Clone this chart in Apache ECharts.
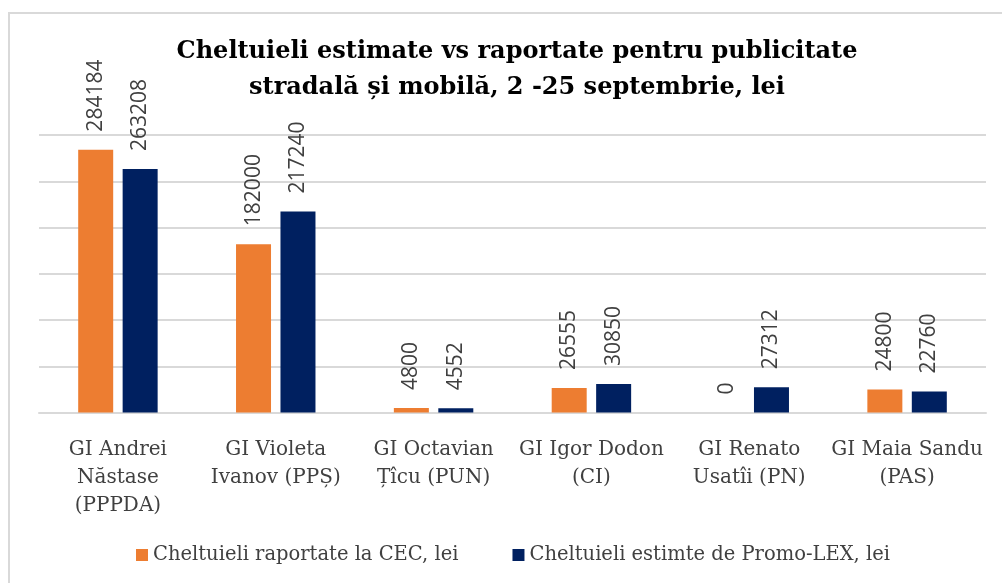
<!DOCTYPE html>
<html>
<head>
<meta charset="utf-8">
<script src="https://cdn.jsdelivr.net/npm/echarts@6/dist/echarts.min.js"></script>
<style>html,body{margin:0;padding:0;background:#fff}#c{width:1002px;height:583px}</style>
</head>
<body>
<div id="c"></div>
<script>
const categories = [
  "GI Andrei\nNăstase\n(PPPDA)",
  "GI Violeta\nIvanov (PPȘ)",
  "GI Octavian\nȚîcu (PUN)",
  "GI Igor Dodon\n(CI)",
  "GI Renato\nUsatîi (PN)",
  "GI Maia Sandu\n(PAS)"
];
const seriesNames = ["Cheltuieli raportate la CEC, lei", "Cheltuieli estimte de Promo-LEX, lei"];
const reportedCEC = [284184, 182000, 4800, 26555, 0, 24800];
const estimatedPromoLex = [263208, 217240, 4552, 30850, 27312, 22760];

const chart = echarts.init(document.getElementById('c'), null, {renderer: 'canvas'});
const serif = '"DejaVu Serif", serif';
const sans = '"Open Sans", sans-serif';
const labelCfg = {
  show: true,
  position: 'top',
  rotate: 90,
  align: 'left',
  verticalAlign: 'middle',
  distance: 18,
  color: '#404040',
  fontFamily: sans,
  fontSize: 21
};
chart.setOption({
  animation: false,
  backgroundColor: '#fff',
  graphic: [{
    type: 'rect',
    shape: {x: 9, y: 13, width: 1100, height: 700},
    style: {fill: 'none', stroke: '#d9d9d9', lineWidth: 2},
    silent: true
  }],
  title: {
    text: 'Cheltuieli estimate vs raportate pentru publicitate\nstradală și mobilă, 2 -25 septembrie, lei',
    left: 512,
    textAlign: 'center',
    top: 29,
    textStyle: {fontFamily: serif, fontWeight: 'bold', fontSize: 24, lineHeight: 36, color: '#000'}
  },
  legend: {
    left: 131,
    top: 540,
    itemWidth: 12,
    itemHeight: 12,
    itemGap: 54,
    icon: 'rect',
    textStyle: {fontFamily: serif, fontSize: 19.5, color: '#404040'},
    data: seriesNames
  },
  grid: {left: 39, right: 16, top: 135, bottom: 170.5, containLabel: false},
  xAxis: {
    type: 'category',
    data: categories,
    axisLine: {lineStyle: {color: '#d9d9d9', width: 2}},
    axisTick: {show: false},
    axisLabel: {interval: 0, margin: 23, fontFamily: serif, fontSize: 20, lineHeight: 28, color: '#404040'}
  },
  yAxis: {
    type: 'value',
    min: 0,
    max: 300000,
    interval: 50000,
    axisLabel: {show: false},
    axisLine: {show: false},
    axisTick: {show: false},
    splitLine: {lineStyle: {color: '#d9d9d9', width: 2}}
  },
  series: [
    {name: seriesNames[0], type: 'bar', data: reportedCEC, barWidth: 35, barGap: '27%',
     itemStyle: {color: '#ED7D31'}, label: labelCfg},
    {name: seriesNames[1], type: 'bar', data: estimatedPromoLex, barWidth: 35,
     itemStyle: {color: '#002060'}, label: labelCfg}
  ]
});
</script>
</body>
</html>
